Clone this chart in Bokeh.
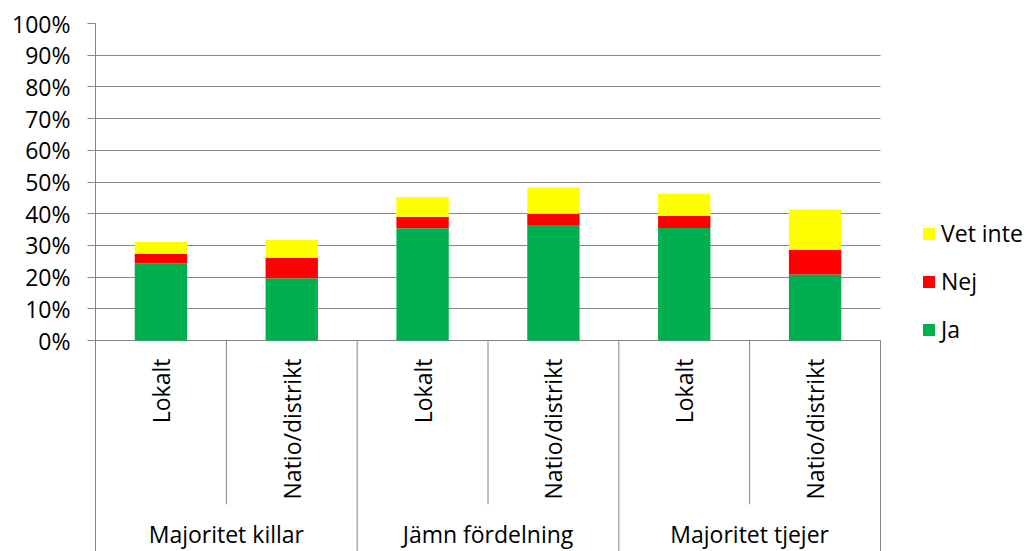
import numpy as np
from bokeh.plotting import figure
from bokeh.models import (ColumnDataSource, Range1d, FixedTicker, NumeralTickFormatter,
                          Legend, LegendItem)
from bokeh.core.properties import value
from bokeh.embed import file_html
from bokeh.resources import INLINE

# ---- data (percent) ----
groups = ["Majoritet killar", "Jämn fördelning", "Majoritet tjejer"]
subcats = ["Lokalt", "Natio/distrikt"]
series = ["Ja", "Nej", "Vet inte"]
ja = [24.3, 19.6, 35.4, 36.2, 35.5, 20.8]
nej = [3.1, 6.5, 3.6, 3.8, 3.8, 7.8]
vet_inte = [3.7, 5.7, 6.3, 8.3, 7.0, 12.7]
colors = ["#00B050", "#FF0000", "#FFFF00"]
y_ticks = [0, 10, 20, 30, 40, 50, 60, 70, 80, 90, 100]

FONT = "Open Sans"
GRID = "#868686"
YMIN = -0.6656

n = len(groups) * len(subcats)
xs = np.arange(n) + 0.5
sub_labels = [s for g in groups for s in subcats]

# frame spans to the right edge; the category area covers 785 px of 934
XMAX = n * 934.0 / 785.0

source = ColumnDataSource(dict(
    x=xs,
    Ja=np.array(ja) / 100.0,
    Nej=np.array(nej) / 100.0,
    Vet=np.array(vet_inte) / 100.0,
))

p = figure(width=1029, height=551, output_backend="svg", toolbar_location=None,
           x_range=Range1d(0, XMAX), y_range=Range1d(YMIN, 1.0),
           x_axis_location=None, min_border_left=95, min_border_right=0,
           min_border_top=23, min_border_bottom=0)
p.outline_line_color = None
p.background_fill_color = "white"
p.border_fill_color = "white"
p.xgrid.visible = False

renderers = p.vbar_stack(["Ja", "Nej", "Vet"], x="x", width=0.4, color=colors,
                         line_color=None, source=source)

# y axis
ax = p.yaxis[0]
ax.ticker = FixedTicker(ticks=[t / 100.0 for t in y_ticks])
ax.formatter = NumeralTickFormatter(format="0%")
ax.axis_line_color = GRID
ax.axis_line_width = 1
ax.major_tick_line_color = GRID
ax.major_tick_out = 8
ax.major_tick_in = 0
ax.minor_tick_line_color = None
ax.major_label_text_font = FONT
ax.major_label_text_font_size = "23px"
ax.major_label_text_color = "black"
ax.major_label_standoff = 17

yg = p.ygrid[0]
yg.ticker = FixedTicker(ticks=[t / 100.0 for t in y_ticks])
yg.grid_line_color = GRID
yg.grid_line_width = 1
yg.cross_bounds = (0, n)

# category separators below the axis
sub_sep = np.arange(1, n, 2)
grp_sep = np.arange(2, n + 1, 2)
p.segment(x0=sub_sep, y0=0, x1=sub_sep, y1=-0.517, line_color=GRID, line_width=1)
p.segment(x0=grp_sep, y0=0, x1=grp_sep, y1=YMIN, line_color=GRID, line_width=1)

# sub-category labels (rotated)
p.text(x=xs, y=-0.057, text=sub_labels, angle=np.pi / 2, text_align="right",
       text_baseline="middle", text_font=value(FONT), text_font_size="23px",
       text_color="black")

# group labels
gx = np.arange(len(groups)) * 2 + 1.0
p.text(x=gx, y=-0.609, text=groups, text_align="center", text_baseline="alphabetic",
       text_font=value(FONT), text_font_size="23px", text_color="black")

items = [LegendItem(label=lab, renderers=[r]) for lab, r in zip(series, renderers)]
legend = Legend(items=items[::-1], location=(826, 206), border_line_color=None,
                background_fill_alpha=0, padding=0, margin=0, spacing=16,
                glyph_width=15, glyph_height=15, label_standoff=5,
                label_text_font=FONT, label_text_font_size="23px",
                label_text_color="black")
p.add_layout(legend, "center")

open("out.html", "w").write(file_html(p, INLINE))
